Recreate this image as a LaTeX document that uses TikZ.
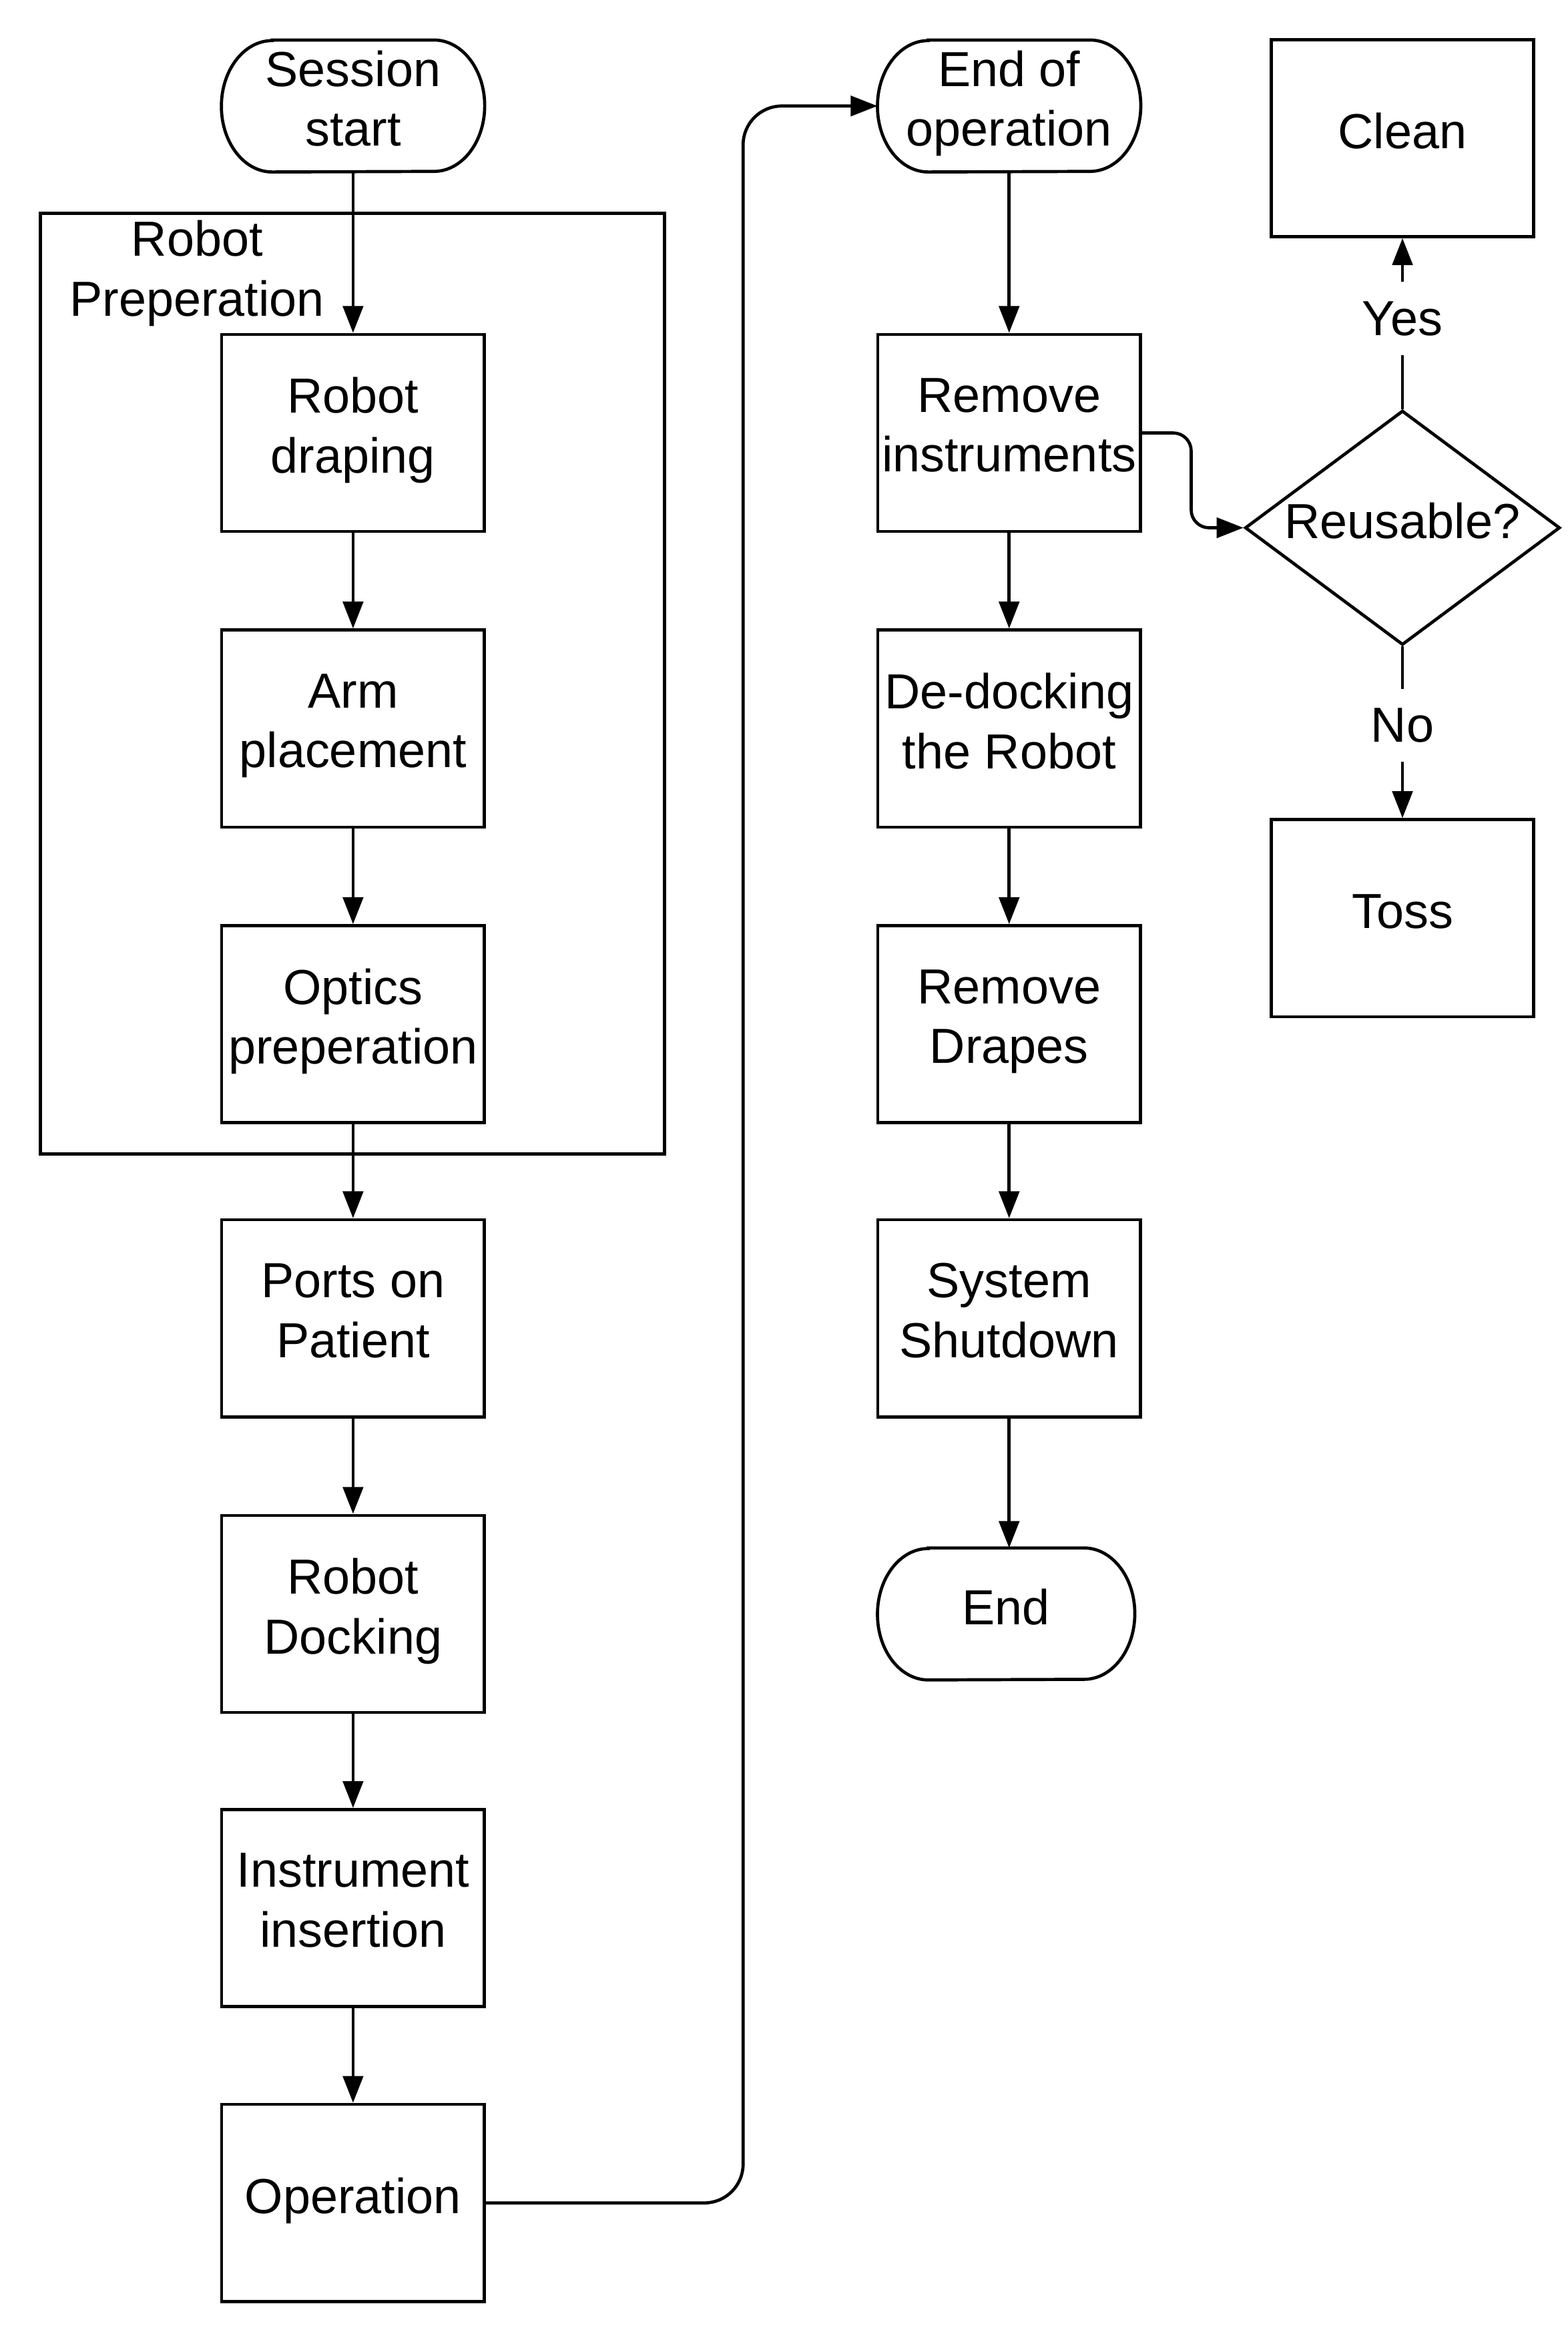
\documentclass[tikz,border=0pt]{standalone}
\usepackage{fontspec}
\setmainfont{Liberation Sans}
\usepackage{tikz}
\usetikzlibrary{arrows.meta,shapes.geometric}
\newcommand\linestrut{\rule[-10.5pt]{0pt}{35pt}}
\tikzset{
    box/.style={draw, line width=2.1pt, minimum width=176pt, minimum height=132pt, inner sep=2pt, align=center,
        execute at begin node=\linestrut, execute at end node=\linestrut},
    terminal/.style={minimum width=176pt, minimum height=88pt, inner sep=2pt, align=center,
        execute at begin node=\linestrut, execute at end node=\linestrut},
    outline/.style={line width=2.1pt},
    flow/.style={line width=2.1pt, -{Triangle[length=18pt,width=13.5pt]}},
    answer/.style={fill=white, inner sep=13pt}
}

\begin{document}
\begin{tikzpicture}[x=1pt,y=-1pt,font=\fontsize{33}{40}\selectfont]

    \useasboundingbox (0,0) rectangle (1050,1570);

    \node[draw, outline, minimum width=418pt, minimum height=630pt, inner sep=0pt] (prep) at (236,458) {};
    \node[align=center] (preplabel) at (132,183) {Robot\\Preperation};

    \node[terminal] (start) at (236.5,71) {Session\\start};
    \node[box] (draping) at (236.5,290) {Robot\\draping};
    \node[box] (arm) at (236.5,488) {Arm\\placement};
    \node[box] (optics) at (236.5,686) {Optics\\preperation};
    \node[box] (ports) at (236.5,883) {Ports on\\Patient};
    \node[box] (docking) at (236.5,1081) {Robot\\Docking};
    \node[box] (insertion) at (236.5,1278) {Instrument\\insertion};
    \node[box] (operation) at (236.5,1475.5) {Operation};

    \node[terminal] (endop) at (676,71) {End of\\operation};
    \node[box] (instruments) at (676,290) {Remove\\instruments};
    \node[box] (dedocking) at (676,488) {De-docking\\the Robot};
    \node[box] (drapes) at (676,686) {Remove\\Drapes};
    \node[box] (shutdown) at (676,883) {System\\Shutdown};
    \node[terminal, minimum width=172pt] (finish) at (674,1081) {End};

    \node[box] (clean) at (939.5,92.5) {Clean};
    \node[draw, outline, diamond, aspect=1.344, minimum width=211pt, minimum height=157pt, inner sep=0pt,
        execute at begin node=\linestrut] (reuse) at (939.5,353.5) {Reusable?};
    \node[box] (toss) at (939.5,615) {Toss};

    \draw[outline] ([xshift=34pt]start.north west) -- ([xshift=-34pt]start.north east) arc[start angle=90, end angle=-90, x radius=34pt, y radius=44pt] -- ([xshift=34pt]start.south west) arc[start angle=270, end angle=90, x radius=34pt, y radius=44pt] -- cycle;
    \draw[outline] ([xshift=34pt]endop.north west) -- ([xshift=-34pt]endop.north east) arc[start angle=90, end angle=-90, x radius=34pt, y radius=44pt] -- ([xshift=34pt]endop.south west) arc[start angle=270, end angle=90, x radius=34pt, y radius=44pt] -- cycle;
    \draw[outline] ([xshift=34pt]finish.north west) -- ([xshift=-34pt]finish.north east) arc[start angle=90, end angle=-90, x radius=34pt, y radius=44pt] -- ([xshift=34pt]finish.south west) arc[start angle=270, end angle=90, x radius=34pt, y radius=44pt] -- cycle;

    \draw[flow] (start) -- (draping);
    \draw[flow] (draping) -- (arm);
    \draw[flow] (arm) -- (optics);
    \draw[flow] (optics) -- (ports);
    \draw[flow] (ports) -- (docking);
    \draw[flow] (docking) -- (insertion);
    \draw[flow] (insertion) -- (operation);
    \draw[flow, rounded corners=26pt] (operation.east) -| ([xshift=-90pt]endop.west) -- (endop.west);

    \draw[flow] (endop) -- (instruments);
    \draw[flow] (instruments) -- (dedocking);
    \draw[flow] (dedocking) -- (drapes);
    \draw[flow] (drapes) -- (shutdown);
    \draw[flow] (shutdown) -- (shutdown |- finish.north);
    \draw[flow, rounded corners=12pt] (instruments.east) -| ([xshift=-35pt]reuse.west) -- (reuse.west);

    \draw[flow] (reuse) -- node[answer, pos=0.53] (yes) {Yes} (clean);
    \draw[flow] (reuse) -- node[answer, pos=0.46] (no) {No} (toss);
\end{tikzpicture}
\end{document}
